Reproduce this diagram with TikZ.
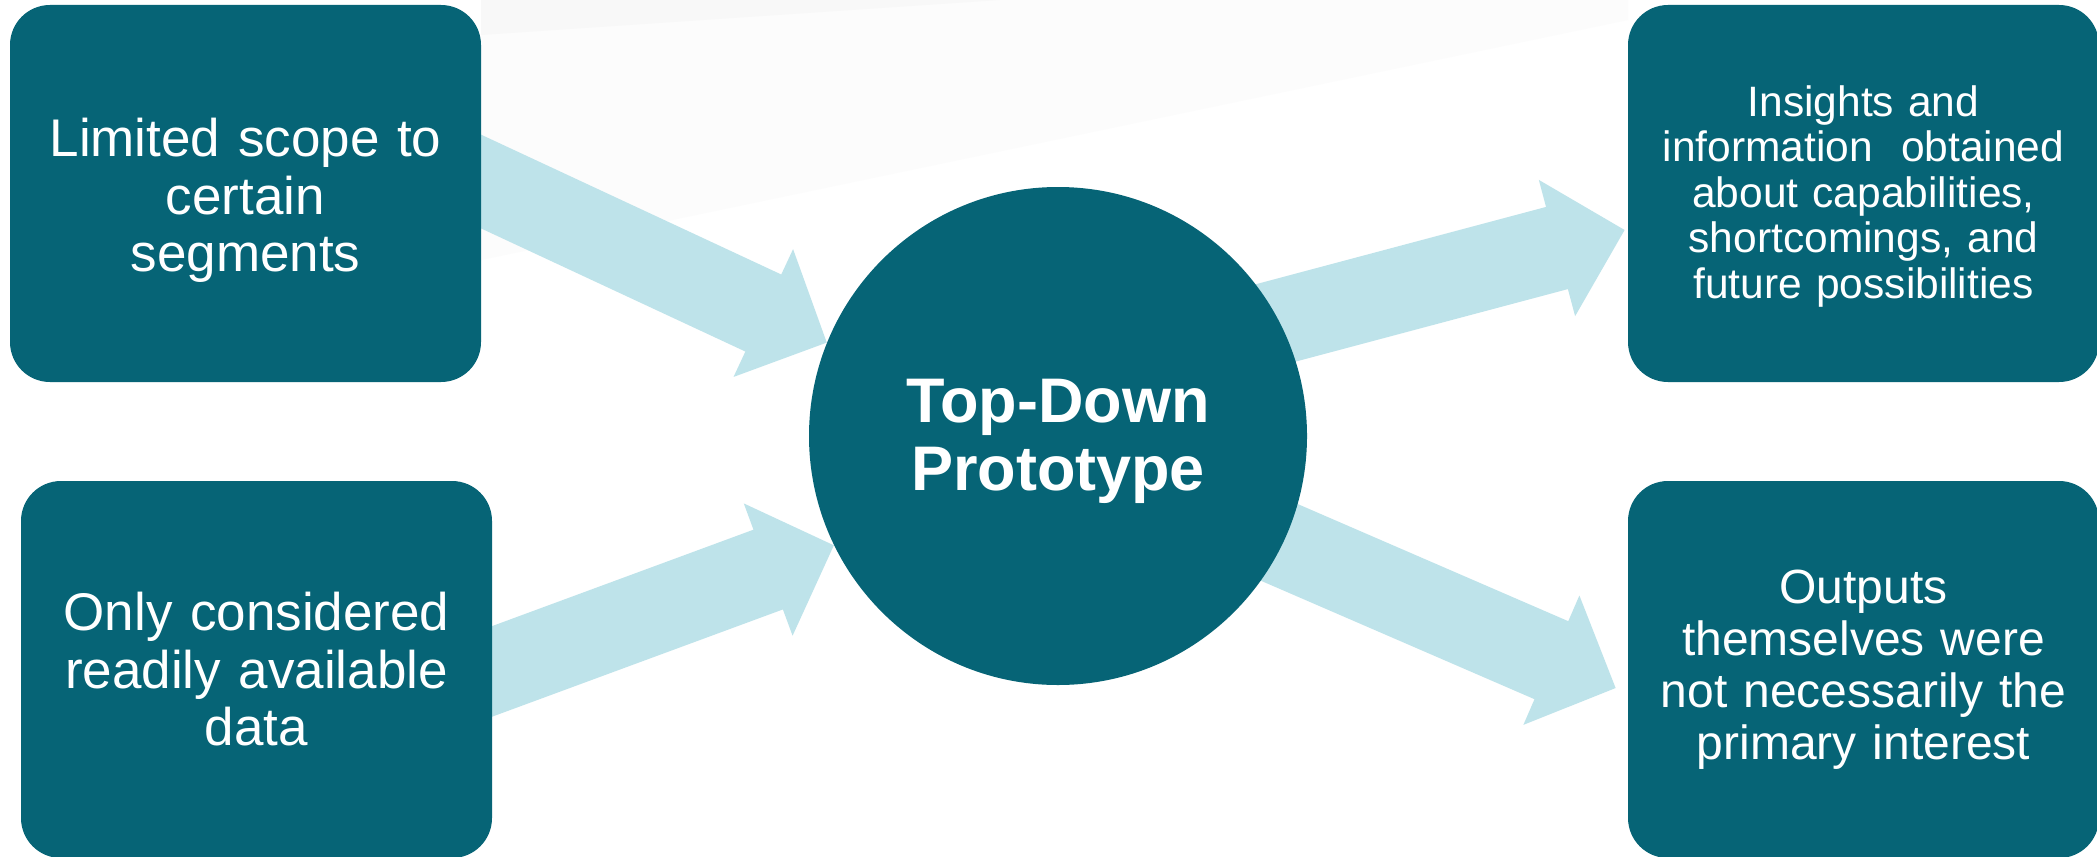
\documentclass[tikz,border=0pt]{standalone}
\usepackage{fontspec}
\setmainfont{Liberation Sans}
\usetikzlibrary{calc}
\definecolor{boxteal}{RGB}{6,100,118}
\definecolor{flowblue}{RGB}{190,227,234}
\definecolor{haze}{RGB}{248,248,248}
\definecolor{lighthaze}{RGB}{252,252,252}
\pgfdeclarelayer{backdrop}
\pgfdeclarelayer{flows}
\pgfsetlayers{backdrop,flows,main}

% block arrow from a start point (#1) to a tip point (#2)
\newcommand\flowarrow[2]{%
  \path #1 coordinate (fa-s) #2 coordinate (fa-t);
  \coordinate (fa-b) at ($(fa-t)!35pt!(fa-s)$);
  \fill[flowfill]
    ($(fa-s)!21.25pt!90:(fa-t)$) -- ($(fa-b)!21.25pt!-90:(fa-s)$) --
    ($(fa-b)!35.25pt!-90:(fa-s)$) -- (fa-t) --
    ($(fa-b)!35.25pt!90:(fa-s)$) -- ($(fa-b)!21.25pt!90:(fa-s)$) --
    ($(fa-s)!21.25pt!-90:(fa-t)$) -- cycle;
}

\begin{document}
\begin{tikzpicture}[x=0.5pt,y=-0.5pt,
  card/.style={rectangle, rounded corners=20pt, fill=boxteal, text=white,
    minimum width=235.5pt, minimum height=188.5pt, inner sep=0pt,
    text width=232pt, align=center},
  hub/.style={circle, fill=boxteal, text=white, minimum size=249pt,
    inner sep=0pt, align=center,
    font=\bfseries\fontsize{31.5pt}{34pt}\selectfont},
  flowfill/.style={fill=flowblue}]

\useasboundingbox (0,0) rectangle (2097,856);

\begin{pgfonlayer}{backdrop}
  \fill[white] (0,0) rectangle (2097,856);
  % faint sheen across the upper area
  \fill[lighthaze] (481,0) -- (1628,0) -- (1628,20) -- (481,260) -- cycle;
  \fill[haze] (481,0) -- (1000,0) -- (481,35) -- cycle;
\end{pgfonlayer}

% input cards
\node[card, font=\fontsize{26.5pt}{28.75pt}\selectfont] (lt) at (245.5,193.5)
  {\rule{0pt}{26pt}Limited scope to\\certain\\segments};
\node[card, font=\fontsize{26.5pt}{28.75pt}\selectfont] (lb) at (256.5,669.5)
  {Only considered\\readily available\\data};

% central prototype
\node[hub] (c) at (1058,436) {\rule{0pt}{27pt}Top-Down\\Prototype};

% outcome cards
\node[card, font=\fontsize{21.25pt}{22.8pt}\selectfont] (rt) at (1863.5,193.5)
  {\rule{0pt}{18.2pt}Insights and\\information\ \ obtained\\about capabilities,\\shortcomings, and\\future possibilities};
\node[card, font=\fontsize{24pt}{26pt}\selectfont] (rb) at (1863.5,669.5)
  {Outputs\\themselves were\\not necessarily the\\primary interest};

% block arrows
\begin{pgfonlayer}{flows}
  \flowarrow{($(lt.east)+(-41,-30.9)$)}{(c.158.6)}
  \flowarrow{($(lb.east)+(-32,13.6)$)}{(c.206.7)}
  \flowarrow{($(c.center)+(92,-79.6)$)}{($(rt.west)+(-3,36.5)$)}
  \flowarrow{($(c.center)+(92,50.4)$)}{($(rb.west)+(-12,18.5)$)}
\end{pgfonlayer}
\end{tikzpicture}
\end{document}
